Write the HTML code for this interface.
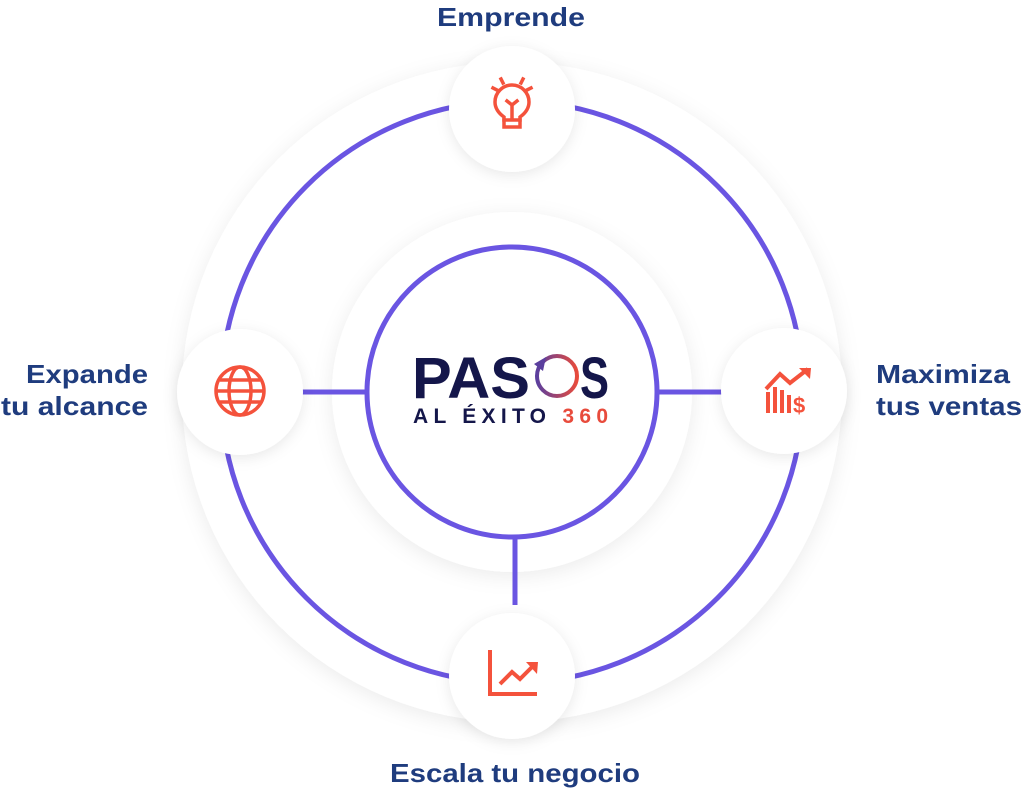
<!DOCTYPE html>
<html><head><meta charset="utf-8"><style>
html,body{margin:0;padding:0;background:#fff;width:1024px;height:788px;overflow:hidden}
svg{display:block}
text{font-family:"Liberation Sans",sans-serif;font-weight:bold}
</style></head><body>
<svg width="1024" height="788" viewBox="0 0 1024 788">
<defs>
<filter id="sh" x="-20%" y="-20%" width="140%" height="140%"><feDropShadow dx="0" dy="4" stdDeviation="10" flood-color="#000" flood-opacity="0.08"/></filter>
<filter id="sh2" x="-30%" y="-30%" width="160%" height="160%"><feDropShadow dx="0" dy="3" stdDeviation="7" flood-color="#000" flood-opacity="0.09"/></filter>
<linearGradient id="g" x1="0" y1="0" x2="1" y2="0"><stop offset="0" stop-color="#5b3f9e"/><stop offset="1" stop-color="#e84b3c"/></linearGradient>
</defs>
<circle cx="512" cy="392" r="330" fill="#fff" filter="url(#sh)"/>
<circle cx="512" cy="392" r="180" fill="#fff" filter="url(#sh)"/>
<circle cx="512" cy="392" r="291" fill="none" stroke="#6a55e2" stroke-width="5"/>
<circle cx="512" cy="392" r="145" fill="#fff" stroke="#6a55e2" stroke-width="5"/>
<line x1="300" y1="392" x2="367" y2="392" stroke="#6a55e2" stroke-width="5"/>
<line x1="657" y1="392" x2="724" y2="392" stroke="#6a55e2" stroke-width="5"/>
<line x1="515" y1="537" x2="515" y2="605" stroke="#6a55e2" stroke-width="5"/>
<circle cx="512" cy="109" r="63" fill="#fff" filter="url(#sh2)"/>
<circle cx="240" cy="392" r="63" fill="#fff" filter="url(#sh2)"/>
<circle cx="784" cy="391" r="63" fill="#fff" filter="url(#sh2)"/>
<circle cx="512" cy="676" r="63" fill="#fff" filter="url(#sh2)"/>
<!-- bulb -->
<g stroke="#f4523c" stroke-width="3.5" fill="none" stroke-linecap="square">
<path d="M504 117 C497 112 495 107 495 102 A17 17 0 0 1 529 102 C529 107 527 112 520 117 L520 127 L504 127 Z"/>
<line x1="504" y1="120" x2="520" y2="120"/>
<path d="M507 101 L512 105 L517 101 M512 105 L512 117"/>
<line x1="497" y1="90" x2="493" y2="88"/><line x1="527" y1="90" x2="531" y2="88"/>
<line x1="503" y1="83" x2="501" y2="79"/><line x1="521" y1="83" x2="523" y2="79"/>
</g>
<!-- globe -->
<g stroke="#f4523c" stroke-width="3.5" fill="none">
<circle cx="240" cy="391" r="24"/>
<ellipse cx="240" cy="391" rx="11" ry="24"/>
<line x1="216" y1="391" x2="264" y2="391"/>
<line x1="220" y1="380" x2="260" y2="380"/><line x1="220" y1="402" x2="260" y2="402"/>
</g>
<!-- sales -->
<g fill="#f4523c">
<rect x="766" y="392" width="4" height="21"/><rect x="773" y="387" width="4" height="26"/><rect x="780" y="390" width="4" height="23"/><rect x="787" y="395" width="4" height="18"/>
<text x="793" y="413" font-size="22" fill="#f4523c">$</text>
</g>
<path d="M766 389 L780 374 L790 383 L808 369" stroke="#f4523c" stroke-width="4" fill="none"/>
<path d="M799 368 L811 368 L810 379 Z" fill="#f4523c"/>
<!-- chart -->
<g stroke="#f4523c" stroke-width="4" fill="none">
<path d="M490 650 L490 694 L537 694"/>
<path d="M500 684 L512 672 L520 679 L534 665"/>
</g>
<path d="M526 662 L538 662 L537 674 Z" fill="#f4523c"/>
<!-- logo -->
<text x="412" y="398" font-size="58" fill="#14164a" textLength="118" lengthAdjust="spacingAndGlyphs">PAS</text>
<circle cx="557" cy="376" r="20" fill="none" stroke="url(#g)" stroke-width="4"/>
<path d="M534 364 L546 357 L543 371 Z" fill="#5b3f9e"/>
<text x="580" y="398" font-size="58" fill="#14164a" textLength="29" lengthAdjust="spacingAndGlyphs">S</text>
<text x="413" y="423" font-size="21" fill="#14164a" textLength="195">AL ÉXITO <tspan fill="#e84b3c">360</tspan></text>
<!-- labels -->
<g fill="#1f3c7e" font-size="26">
<text x="437" y="26" textLength="148" lengthAdjust="spacingAndGlyphs">Emprende</text>
<text x="390" y="782" textLength="250" lengthAdjust="spacingAndGlyphs">Escala tu negocio</text>
<text x="26" y="383" textLength="122" lengthAdjust="spacingAndGlyphs">Expande</text>
<text x="1" y="415" textLength="147" lengthAdjust="spacingAndGlyphs">tu alcance</text>
<text x="876" y="383" textLength="134" lengthAdjust="spacingAndGlyphs">Maximiza</text>
<text x="876" y="415" textLength="146" lengthAdjust="spacingAndGlyphs">tus ventas</text>
</g>
</svg>
</body></html>
